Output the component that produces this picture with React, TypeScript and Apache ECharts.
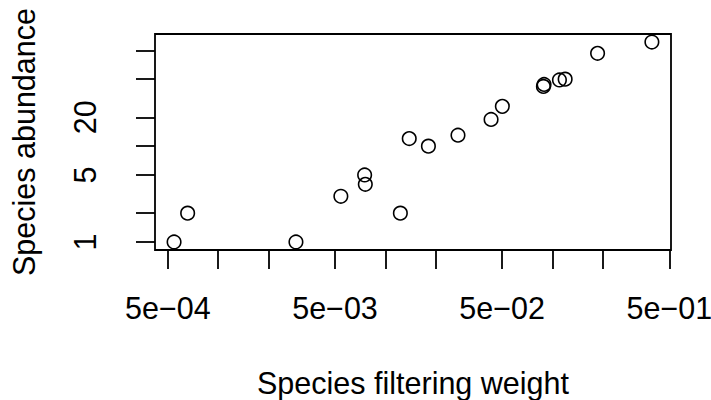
import React, { useEffect, useRef } from "react";
import * as echarts from "echarts";

// Species filtering weight (x) and species abundance (y)
const filteringWeight = [
  5.45e-4, 6.57e-4, 2.92e-3, 5.42e-3, 7.52e-3, 7.59e-3, 0.0123, 0.0139, 0.0181,
  0.0272, 0.0429, 0.0501, 0.089, 0.0882, 0.11, 0.119, 0.186, 0.393,
];
const abundance = [1, 2, 1, 3, 5, 4, 2, 12, 10, 13, 19, 26, 44, 42, 49, 50, 93, 122];

const xTickValues = [5e-4, 1e-3, 2e-3, 5e-3, 1e-2, 2e-2, 5e-2, 1e-1, 2e-1, 5e-1];
const xLabelValues = [5e-4, 5e-3, 5e-2, 5e-1];
const yTickValues = [1, 2, 5, 10, 20, 50, 100];
const yLabelValues = [1, 5, 20];

const xTitle = "Species filtering weight";
const yTitle = "Species abundance";

const FONT = "'Liberation Sans', Arial, Helvetica, sans-serif";
const FS = 30.5;

function fmtExp(v: number): string {
  const s = v.toExponential(0); // e.g. 5e-4
  const [m, e] = s.split("e");
  const n = parseInt(e, 10);
  const sign = n < 0 ? "\u2212" : "+";
  const abs = Math.abs(n);
  return `${m}e${sign}${abs < 10 ? "0" + abs : abs}`;
}

export default function App() {
  const ref = useRef<HTMLDivElement>(null);
  useEffect(() => {
    if (!ref.current) return;
    const chart = echarts.init(ref.current, undefined, { renderer: "svg" });
    const data = filteringWeight.map((x, i) => [x, abundance[i]]);
    chart.setOption({
      animation: false,
      backgroundColor: "#fff",
      textStyle: { fontFamily: FONT },
      grid: {
        left: 155,
        top: 34,
        width: 516,
        height: 216,
        containLabel: false,
        outerBoundsMode: "none",
        show: true,
        borderColor: "#000",
        borderWidth: 1.8,
        backgroundColor: "transparent",
      },
      xAxis: {
        type: "log",
        logBase: 10,
        min: 4.191e-4,
        max: 0.5113,
        name: xTitle,
        nameLocation: "middle",
        nameGap: 117,
        nameTextStyle: { fontSize: FS, color: "#000", fontFamily: FONT },
        axisLine: { show: false },
        splitLine: { show: false },
        minorTick: { show: false },
        axisTick: {
          show: true,
          length: 19,
          lineStyle: { color: "#000", width: 1.8 },
          customValues: xTickValues,
        },
        axisLabel: {
          show: true,
          margin: 42,
          fontSize: FS,
          color: "#000",
          fontFamily: FONT,
          customValues: xLabelValues,
          formatter: (v: number) => fmtExp(v),
        },
      },
      yAxis: {
        type: "log",
        logBase: 10,
        min: 0.825,
        max: 147.9,
        name: yTitle,
        nameLocation: "middle",
        nameGap: 116,
        nameTextStyle: { fontSize: FS, color: "#000", fontFamily: FONT },
        axisLine: { show: false },
        splitLine: { show: false },
        minorTick: { show: false },
        axisTick: {
          show: true,
          length: 19,
          lineStyle: { color: "#000", width: 1.8 },
          customValues: yTickValues,
        },
        axisLabel: {
          show: true,
          rotate: 90,
          margin: 55,
          fontSize: FS,
          color: "#000",
          fontFamily: FONT,
          customValues: yLabelValues,
          formatter: (v: number) => String(Math.round(v)),
        },
      },
      series: [
        {
          type: "scatter",
          data,
          symbol: "circle",
          symbolSize: 13.5,
          itemStyle: {
            color: "rgba(0,0,0,0)",
            borderColor: "#000",
            borderWidth: 1.6,
            opacity: 1,
          },
          emphasis: { disabled: true },
        },
      ],
    });
    return () => chart.dispose();
  }, []);
  return (
    <div
      ref={ref}
      style={{ position: "absolute", left: 0, top: 0, width: 711, height: 400, background: "#fff" }}
    />
  );
}
